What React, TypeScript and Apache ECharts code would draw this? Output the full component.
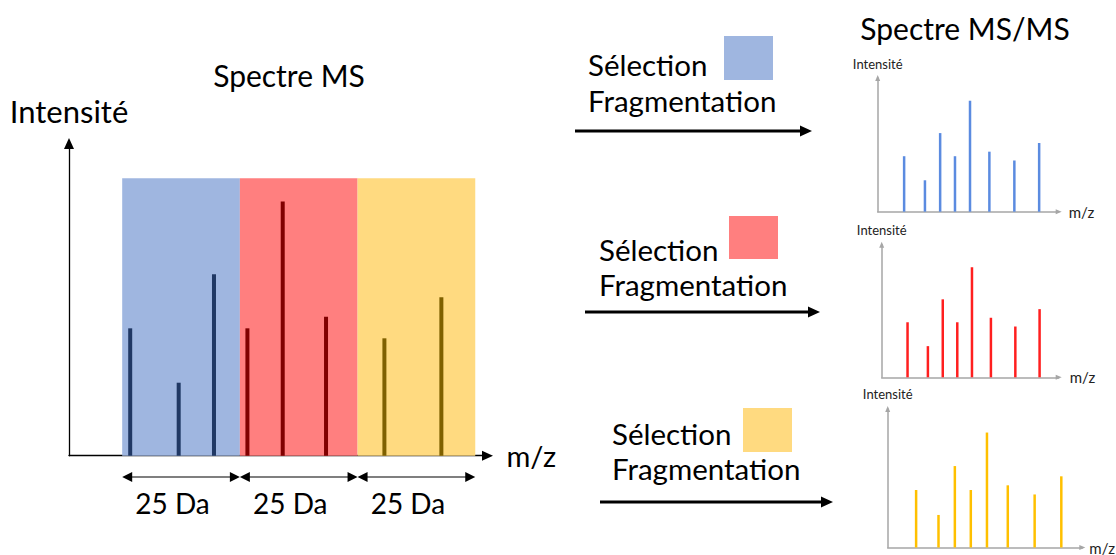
import React, { useEffect, useRef } from "react";
import * as echarts from "echarts";

const FONT = "Lato, 'Noto Sans', sans-serif";

// ---- MS spectrum (left) ----
const windowStarts = [400, 425, 450];
const windowEnds = [425, 450, 475];
const windowLabels = ["25 Da", "25 Da", "25 Da"];
const windowFill = ["#9FB6E0", "#FF7F7F", "#FFDA80"];
const peakColors = ["#203864", "#800000", "#7F6000"];
const blueMz = [401.7, 412.0, 419.5];
const blueInt = [45.9, 26.3, 65.4];
const redMz = [426.6, 434.1, 443.3];
const redInt = [45.9, 91.6, 50.1];
const yellowMz = [455.7, 467.8];
const yellowInt = [42.3, 57.1];

// ---- MS/MS spectra (right) ----
const fragMz = [14.6, 26.1, 34.5, 42.7, 51.0, 61.7, 75.5, 89.2];
const fragInt = [41.5, 23.5, 58.8, 41.5, 83.0, 44.9, 38.3, 51.4];
const fragColors = ["#5B8BE0", "#FF1F1F", "#FFC000"];

// ---- texts ----
const mainTitle = "Spectre MS";
const msmsTitle = "Spectre MS/MS";
const stepLines = ["Sélection", "Fragmentation"];
const yName = "Intensité";
const xName = "m/z";

export default function App() {
  const ref = useRef<HTMLDivElement>(null);
  useEffect(() => {
    if (!ref.current) return;
    const chart = echarts.init(ref.current, null, { renderer: "svg" });

    const windows = [
      { mz: blueMz, it: blueInt },
      { mz: redMz, it: redInt },
      { mz: yellowMz, it: yellowInt },
    ];
    const mainData: any[] = [];
    windows.forEach((w, wi) =>
      w.mz.forEach((m, i) =>
        mainData.push({ value: [m, w.it[i]], itemStyle: { color: peakColors[wi] } })
      )
    );

    const bigAxis = (name: string, min: number, max: number, gap: number, fs: number) => ({
      type: "value",
      min,
      max,
      name,
      nameLocation: "end",
      nameGap: gap,
      nameTextStyle: { fontFamily: FONT, fontSize: fs, color: "#000" },
      axisLine: {
        show: true,
        onZero: false,
        symbol: ["none", "triangle"],
        symbolSize: [10, 11],
        lineStyle: { color: "#000", width: 1.3 },
      },
      axisTick: { show: false },
      axisLabel: { show: false },
      splitLine: { show: false },
    });
    const smallAxis = (name: string, gap: number, gi: number, size: number) => ({
      type: "value",
      gridIndex: gi,
      min: 0,
      max: 100,
      name,
      nameLocation: "end",
      nameGap: gap,
      nameTextStyle: { fontFamily: FONT, fontSize: size, color: "#222" },
      axisLine: {
        show: true,
        onZero: false,
        symbol: ["none", "triangle"],
        symbolSize: [5, 6],
        lineStyle: { color: "#A6A6A6", width: 1.5 },
      },
      axisTick: { show: false },
      axisLabel: { show: false },
      splitLine: { show: false },
    });

    const miniGrids = [
      { left: 877.7, top: 78, width: 181, height: 133.7 },
      { left: 881.7, top: 244.7, width: 177, height: 132.6 },
      { left: 887.7, top: 409, width: 196, height: 141 },
    ];
    const miniXGap = [10, 11, 7];
    const miniYGap = [8, 8, 9];

    const arrowRows = [
      { x1: 575, x2: 812, y: 131, tx: 588, ty: 82.5, sq: [724, 36, 49, 44] },
      { x1: 585, x2: 820, y: 312, tx: 599, ty: 267, sq: [729, 216, 49, 43] },
      { x1: 600, x2: 833, y: 502, tx: 612, ty: 451, sq: [743, 408, 49, 44] },
    ];
    const stepHalfGap = 17.9;

    const graphic: any[] = [
      {
        type: "text",
        x: 289,
        y: 74.5,
        style: {
          text: mainTitle, font: `30px ${FONT}`, fill: "#000",
          textAlign: "center", align: "center", textVerticalAlign: "middle", verticalAlign: "middle",
        },
      },
      {
        type: "text",
        x: 965,
        y: 28,
        style: {
          text: msmsTitle, font: `30px ${FONT}`, fill: "#000",
          textAlign: "center", align: "center", textVerticalAlign: "middle", verticalAlign: "middle",
        },
      },
    ];
    arrowRows.forEach((r, i) => {
      stepLines.forEach((t, k) => {
        graphic.push({
          type: "text",
          x: r.tx,
          y: r.ty + (k === 0 ? -stepHalfGap : stepHalfGap),
          style: {
            text: t, font: `29.5px ${FONT}`, fill: "#000",
            textAlign: "left", align: "left", textVerticalAlign: "middle", verticalAlign: "middle",
          },
        });
      });
      graphic.push(
        {
          type: "rect",
          shape: { x: r.sq[0], y: r.sq[1], width: r.sq[2], height: r.sq[3] },
          style: { fill: windowFill[i] },
        },
        {
          type: "line",
          shape: { x1: r.x1, y1: r.y, x2: r.x2 - 10, y2: r.y },
          style: { stroke: "#000", lineWidth: 3 },
        },
        {
          type: "polygon",
          shape: { points: [[r.x2, r.y], [r.x2 - 12, r.y - 5.5], [r.x2 - 12, r.y + 5.5]] },
          style: { fill: "#000" },
        }
      );
    });

    const option: any = {
      animation: false,
      grid: [
        { left: 69, top: 143.5, width: 418.5, height: 312.2 },
        ...miniGrids,
        { left: 69, top: 470, width: 418.5, height: 14 },
      ],
      xAxis: [
        { ...bigAxis(xName, 388.7, 477.6, 19, 29), gridIndex: 0 },
        ...miniGrids.map((_, i) => smallAxis(xName, miniXGap[i], i + 1, 15)),
        { type: "value", gridIndex: 4, min: 388.7, max: 477.6, show: false },
      ],
      yAxis: [
        { ...bigAxis(yName, 0, 112.5, 17, 31), gridIndex: 0 },
        ...miniGrids.map((_, i) => smallAxis(yName, miniYGap[i], i + 1, 13)),
        { type: "value", gridIndex: 4, min: 0, max: 1, show: false },
      ],
      series: [
        {
          type: "bar",
          xAxisIndex: 0,
          yAxisIndex: 0,
          barWidth: 4,
          data: mainData,
          silent: true,
          z: 3,
          markArea: {
            silent: true,
            data: windowStarts.map((s, i) => [
              { xAxis: s, yAxis: 0, itemStyle: { color: windowFill[i], opacity: 1 } },
              { xAxis: windowEnds[i], yAxis: 100 },
            ]),
          },
        },
        ...fragColors.map((c, i) => ({
          type: "bar",
          xAxisIndex: i + 1,
          yAxisIndex: i + 1,
          barWidth: 2.5,
          silent: true,
          itemStyle: { color: c },
          data: fragMz.map((m, j) => [m, fragInt[j]]),
        })),
        {
          type: "custom",
          xAxisIndex: 4,
          yAxisIndex: 4,
          silent: true,
          clip: false,
          data: windowStarts.map((s, i) => [s, windowEnds[i]]),
          renderItem: (params: any, api: any) => {
            const a = api.coord([api.value(0), 0.5]);
            const b = api.coord([api.value(1), 0.5]);
            const h = 10;
            const w = 5;
            return {
              type: "group",
              children: [
                {
                  type: "line",
                  shape: { x1: a[0] + h - 1, y1: a[1], x2: b[0] - h + 1, y2: b[1] },
                  style: { stroke: "#000", lineWidth: 1.2 },
                },
                {
                  type: "polygon",
                  shape: { points: [[a[0], a[1]], [a[0] + h, a[1] - w], [a[0] + h, a[1] + w]] },
                  style: { fill: "#000" },
                },
                {
                  type: "polygon",
                  shape: { points: [[b[0], b[1]], [b[0] - h, b[1] - w], [b[0] - h, b[1] + w]] },
                  style: { fill: "#000" },
                },
                {
                  type: "text",
                  x: (a[0] + b[0]) / 2 - 8.5,
                  y: a[1] + 26,
                  style: {
                    text: windowLabels[params.dataIndex],
                    font: `28px ${FONT}`,
                    fill: "#000",
                    textAlign: "center", align: "center",
                    textVerticalAlign: "middle", verticalAlign: "middle",
                  },
                },
              ],
            };
          },
        },
      ],
      graphic,
    };
    chart.setOption(option);
    return () => chart.dispose();
  }, []);
  return (
    <div
      ref={ref}
      style={{ position: "fixed", left: 0, top: 0, width: 1116, height: 555, background: "#fff" }}
    />
  );
}
